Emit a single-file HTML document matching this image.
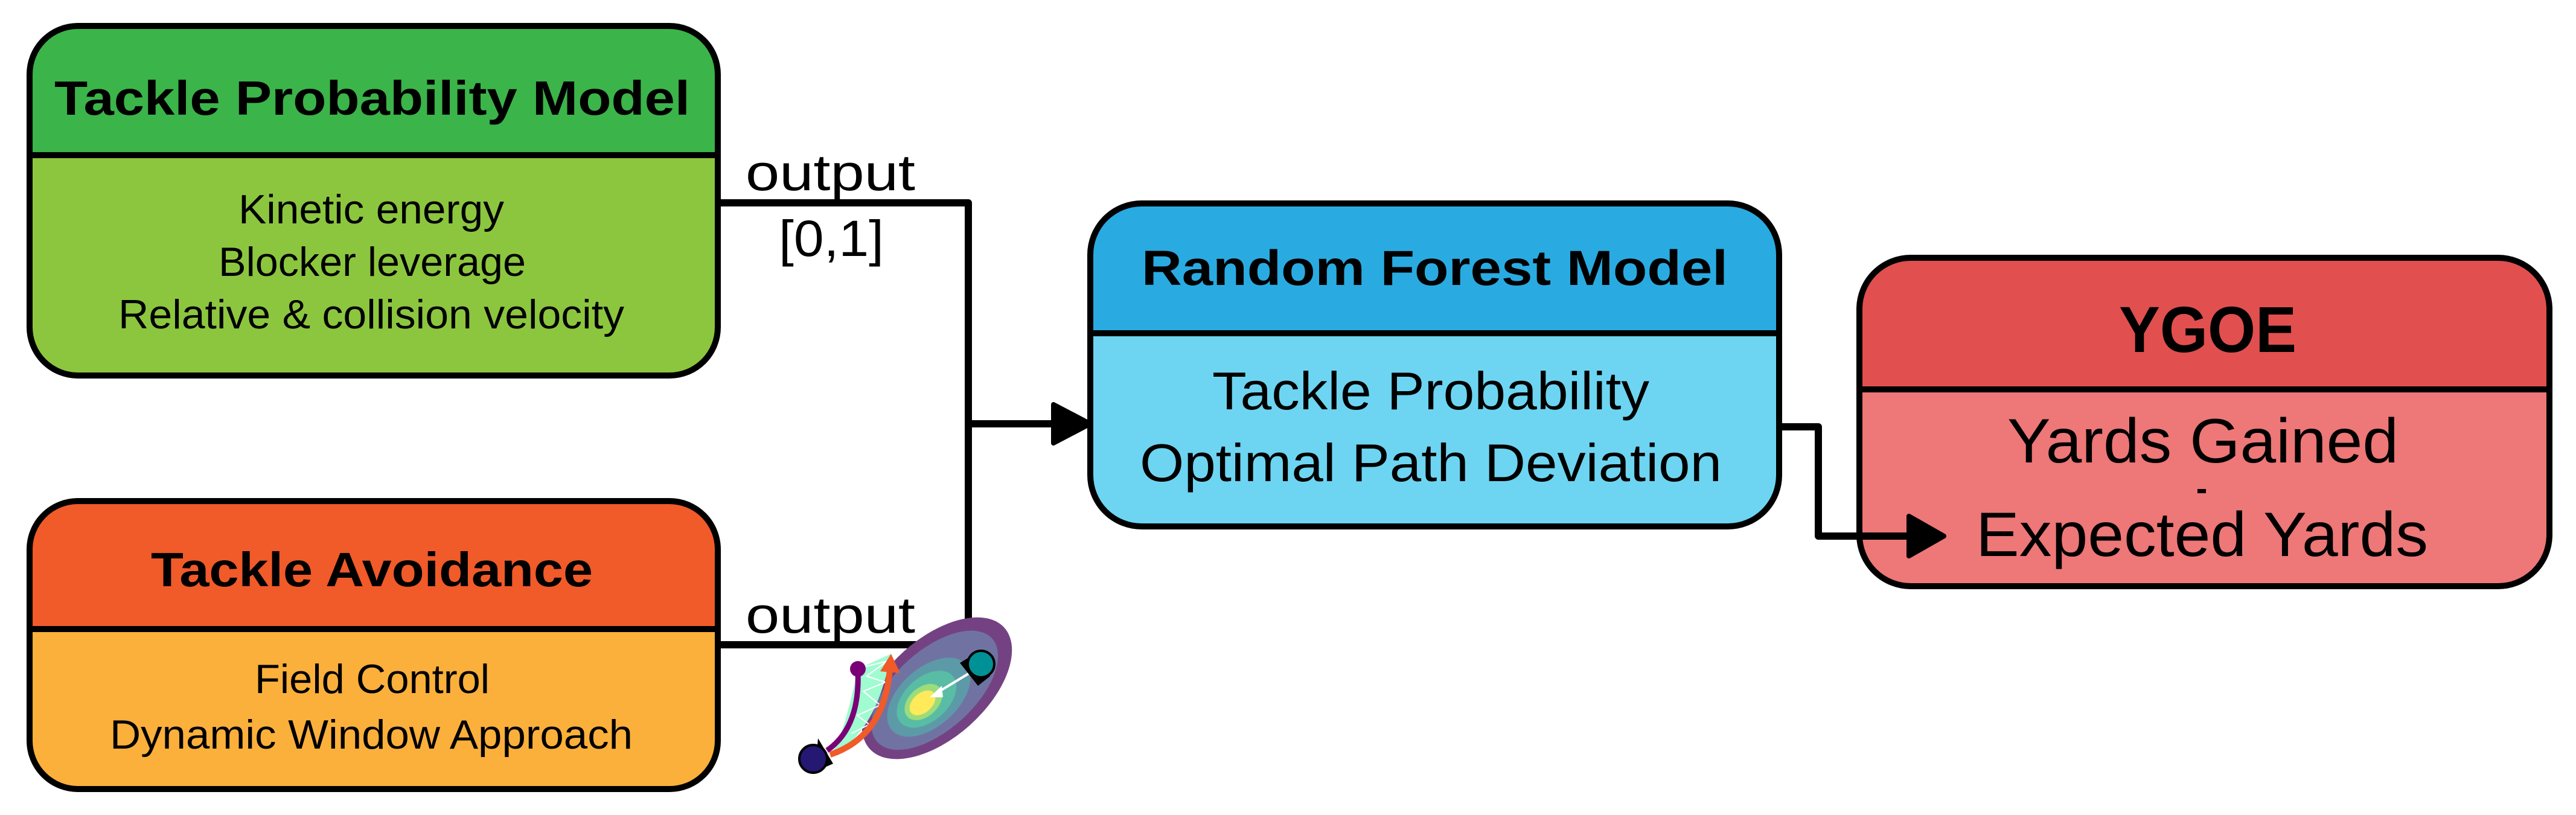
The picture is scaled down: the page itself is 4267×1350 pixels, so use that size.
<!DOCTYPE html>
<html><head><meta charset="utf-8"><style>html,body{margin:0;padding:0;background:#fff}svg{display:block}</style></head>
<body>
<svg width="4267" height="1350" viewBox="0 0 4267 1350" xmlns="http://www.w3.org/2000/svg" font-family="'Liberation Sans', sans-serif">
<defs>
<clipPath id="cg"><rect x="49" y="43" width="1140" height="579" rx="80"/></clipPath>
<clipPath id="co"><rect x="49" y="830" width="1140" height="477" rx="80"/></clipPath>
<clipPath id="cb"><rect x="1806" y="337" width="1141" height="535" rx="85"/></clipPath>
<clipPath id="cr"><rect x="3080" y="427" width="1143" height="544" rx="85"/></clipPath>
</defs>
<g stroke="#000" stroke-width="12" fill="none" stroke-linejoin="round">
<polyline points="1189,336 1604,336 1604,1068 1189,1068"/>
<line x1="1604" y1="702" x2="1750" y2="702"/>
<polyline points="2947,707 3012,707 3012,888 3080,888"/>
</g>
<polygon points="1745,670 1806,702 1745,734" fill="#000" stroke="#000" stroke-width="8" stroke-linejoin="round"/>

<g clip-path="url(#cg)"><rect x="49" y="43" width="1140" height="214" fill="#3bb44a"/><rect x="49" y="257" width="1140" height="365" fill="#8cc63f"/></g>
<line x1="49" y1="257" x2="1189" y2="257" stroke="#000" stroke-width="10"/>
<rect x="49" y="43" width="1140" height="579" rx="80" fill="none" stroke="#000" stroke-width="10"/>
<g clip-path="url(#co)"><rect x="49" y="830" width="1140" height="212" fill="#f15a29"/><rect x="49" y="1042" width="1140" height="265" fill="#fbb03b"/></g>
<line x1="49" y1="1042" x2="1189" y2="1042" stroke="#000" stroke-width="10"/>
<rect x="49" y="830" width="1140" height="477" rx="80" fill="none" stroke="#000" stroke-width="10"/>
<g clip-path="url(#cb)"><rect x="1806" y="337" width="1141" height="215" fill="#29abe2"/><rect x="1806" y="552" width="1141" height="320" fill="#6dd5f1"/></g>
<line x1="1806" y1="552" x2="2947" y2="552" stroke="#000" stroke-width="10"/>
<rect x="1806" y="337" width="1141" height="535" rx="85" fill="none" stroke="#000" stroke-width="10"/>
<g clip-path="url(#cr)"><rect x="3080" y="427" width="1143" height="218" fill="#e14f4f"/><rect x="3080" y="645" width="1143" height="326" fill="#ee7777"/></g>
<line x1="3080" y1="645" x2="4223" y2="645" stroke="#000" stroke-width="10"/>
<rect x="3080" y="427" width="1143" height="544" rx="85" fill="none" stroke="#000" stroke-width="10"/>
<line x1="3070" y1="888" x2="3170" y2="888" stroke="#000" stroke-width="12"/>
<polygon points="3162,855 3220,888 3162,921" fill="#000" stroke="#000" stroke-width="8" stroke-linejoin="round"/>

<g fill="#000">
<text x="90" y="190" font-size="80" font-weight="bold" textLength="1053" lengthAdjust="spacingAndGlyphs">Tackle Probability Model</text>
<text x="395" y="370" font-size="68" textLength="440" lengthAdjust="spacingAndGlyphs">Kinetic energy</text>
<text x="362" y="457" font-size="68" textLength="509" lengthAdjust="spacingAndGlyphs">Blocker leverage</text>
<text x="196" y="544" font-size="68" textLength="838" lengthAdjust="spacingAndGlyphs">Relative &amp; collision velocity</text>
<text x="250" y="971" font-size="80" font-weight="bold" textLength="732" lengthAdjust="spacingAndGlyphs">Tackle Avoidance</text>
<text x="422" y="1148" font-size="68" textLength="389" lengthAdjust="spacingAndGlyphs">Field Control</text>
<text x="182" y="1240" font-size="68" textLength="866" lengthAdjust="spacingAndGlyphs">Dynamic Window Approach</text>
<text x="1235" y="315" font-size="84" textLength="281" lengthAdjust="spacingAndGlyphs">output</text>
<text x="1290" y="424" font-size="84" textLength="174" lengthAdjust="spacingAndGlyphs">[0,1]</text>
<text x="1235" y="1048" font-size="84" textLength="281" lengthAdjust="spacingAndGlyphs">output</text>
<text x="1891" y="472" font-size="82" font-weight="bold" textLength="971" lengthAdjust="spacingAndGlyphs">Random Forest Model</text>
<text x="2008" y="678" font-size="88" textLength="724" lengthAdjust="spacingAndGlyphs">Tackle Probability</text>
<text x="1888" y="797" font-size="88" textLength="964" lengthAdjust="spacingAndGlyphs">Optimal Path Deviation</text>
<text x="3510" y="583" font-size="108" font-weight="bold" textLength="294" lengthAdjust="spacingAndGlyphs">YGOE</text>
<text x="3325" y="766" font-size="104" textLength="648" lengthAdjust="spacingAndGlyphs">Yards Gained</text>
<rect x="3640" y="810" width="14" height="7"/>
<text x="3273" y="921" font-size="104" textLength="749" lengthAdjust="spacingAndGlyphs">Expected Yards</text>
</g>

<g transform="translate(1552,1140) rotate(-42)">
<ellipse cx="0" cy="0" rx="150" ry="82" fill="#744283"/>
<ellipse cx="-5" cy="0" rx="128" ry="66" fill="#7073a2"/>
<ellipse cx="-20" cy="2" rx="82" ry="48" fill="#5d9aa8"/>
<ellipse cx="-25" cy="2" rx="58" ry="36" fill="#58bda4"/>
<ellipse cx="-32" cy="2" rx="36" ry="24" fill="#9ddc7a"/>
<ellipse cx="-34" cy="2" rx="25" ry="16" fill="#feea5a"/>
</g>
<path d="M1421,1108 L1476,1083 Q1450,1220 1375,1250 Q1395,1230 1421,1108Z" fill="#9ffcd0"/>
<g stroke="#fff" stroke-width="2" fill="none"><path d="M1430,1105 L1470,1095 L1435,1120 L1467,1130 L1430,1145 L1458,1168 L1420,1185 L1440,1200 L1410,1215"/></g>
<path d="M1370,1243 Q1425,1205 1421,1112" stroke="#7a0077" stroke-width="9" fill="none"/>
<circle cx="1421" cy="1108" r="13" fill="#7a0077"/>
<path d="M1375,1250 Q1465,1220 1474,1108" stroke="#f15a29" stroke-width="10" fill="none"/>
<polygon points="1476,1083 1491,1115 1458,1112" fill="#f15a29"/>
<line x1="1604" y1="1116" x2="1548" y2="1150" stroke="#fff" stroke-width="4"/>
<polygon points="1540,1155 1560,1136 1562,1155" fill="#fff"/>
<polygon points="1590,1098 1620,1080 1640,1120 1620,1136" fill="#000"/>
<circle cx="1625" cy="1100" r="22" fill="#009196" stroke="#000" stroke-width="4"/>
<polygon points="1355,1223 1380,1265 1350,1278" fill="#000"/>
<circle cx="1347" cy="1257" r="23" fill="#241873" stroke="#000" stroke-width="4"/>
</svg>
</body></html>
